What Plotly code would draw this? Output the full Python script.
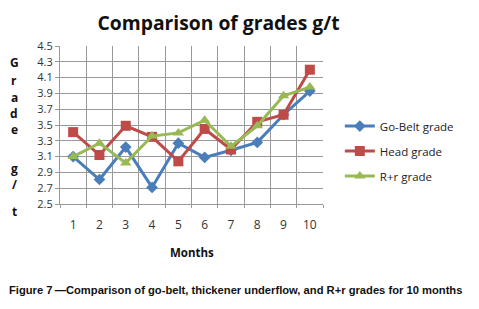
import plotly.graph_objects as go

months = [1, 2, 3, 4, 5, 6, 7, 8, 9, 10]
month_labels = ["1", "2", "3", "4", "5", "6", "7", "8", "9", "10"]
go_belt = [3.10, 2.81, 3.22, 2.71, 3.27, 3.09, 3.18, 3.28, 3.63, 3.93]
head = [3.41, 3.12, 3.49, 3.35, 3.04, 3.45, 3.19, 3.54, 3.63, 4.20]
rr = [3.10, 3.27, 3.02, 3.36, 3.40, 3.56, 3.23, 3.49, 3.87, 3.98]
y_ticks = [2.5, 2.7, 2.9, 3.1, 3.3, 3.5, 3.7, 3.9, 4.1, 4.3, 4.5]

fig = go.Figure()
fig.add_trace(go.Scatter(x=months, y=go_belt, name="Go-Belt grade", mode="lines+markers",
                         legendgroup="a",
                         line=dict(color="#4A7EBB", width=3),
                         marker=dict(symbol="diamond", size=9, color="#4A7EBB")))
fig.add_trace(go.Scatter(x=months, y=head, name="Head grade", mode="lines+markers",
                         legendgroup="b",
                         line=dict(color="#BE4B48", width=3),
                         marker=dict(symbol="square", size=10, color="#BE4B48")))
fig.add_trace(go.Scatter(x=months, y=rr, name="R+r grade", mode="lines+markers",
                         legendgroup="c",
                         line=dict(color="#98B954", width=3),
                         marker=dict(symbol="triangle-up", size=10, color="#98B954")))

fig.update_layout(
    width=471, height=301,
    margin=dict(l=52, r=156, t=38, b=105),
    paper_bgcolor="white", plot_bgcolor="white",
    font=dict(family="Open Sans, sans-serif", color="#333"),
    showlegend=True,
    legend=dict(x=1.064, y=0.585, xanchor="left", yanchor="top",
                font=dict(size=11.5, color="#222"), tracegroupgap=6,
                itemwidth=30, bgcolor="rgba(0,0,0,0)"),
    title=dict(text="<b>Comparison of grades g/t</b>", x=0.447, xanchor="center",
               y=0.948, yanchor="middle", font=dict(size=19.3, color="#111")),
)
fig.update_xaxes(range=[0.5, 10.5], tickmode="array", tickvals=months, ticktext=month_labels,
                 showgrid=False, ticks="", tickfont=dict(size=12, color="#333"),
                 ticklabelstandoff=10,
                 showline=True, linecolor="#999", linewidth=1, zeroline=False,
                 minor=dict(tickmode="linear", tick0=0.5, dtick=1, showgrid=True,
                            gridcolor="#999", gridwidth=1, ticks="outside", ticklen=3,
                            tickcolor="#999"))
fig.update_yaxes(range=[2.5, 4.5], tickmode="array", tickvals=y_ticks,
                 ticktext=[f"{v:.1f}" for v in y_ticks],
                 showgrid=True, gridcolor="#999", gridwidth=1, ticks="outside", ticklen=4,
                 tickcolor="#999", tickfont=dict(size=11, color="#333"),
                 showline=True, linecolor="#999", linewidth=1, zeroline=False)

letters = [("G", 62), ("r", 80), ("a", 97), ("d", 113), ("e", 129), ("g", 168), ("/", 184), ("t", 211)]
for ch, ypx in letters:
    fig.add_annotation(text=f"<b>{ch}</b>", xref="paper", yref="paper",
                       x=(14 - 60) / 263, y=(204 - ypx) / 158, xanchor="center", yanchor="middle",
                       showarrow=False, font=dict(size=12, color="#111"))

fig.add_annotation(text="<b>Months</b>", xref="paper", yref="paper",
                   x=(192 - 60) / 263, y=(204 - 253) / 158, xanchor="center", yanchor="middle",
                   showarrow=False, font=dict(size=11.5, color="#111"))
fig.add_annotation(text="<b>Figure 7\u2009\u2014Comparison of go-belt, thickener underflow, and R+r grades for 10 months</b>",
                   xref="paper", yref="paper",
                   x=(7 - 60) / 263, y=(204 - 290) / 158, xanchor="left", yanchor="middle",
                   showarrow=False, font=dict(family="Liberation Sans, Arial, sans-serif", size=11.2, color="#111"))

fig.write_html("out.html")
